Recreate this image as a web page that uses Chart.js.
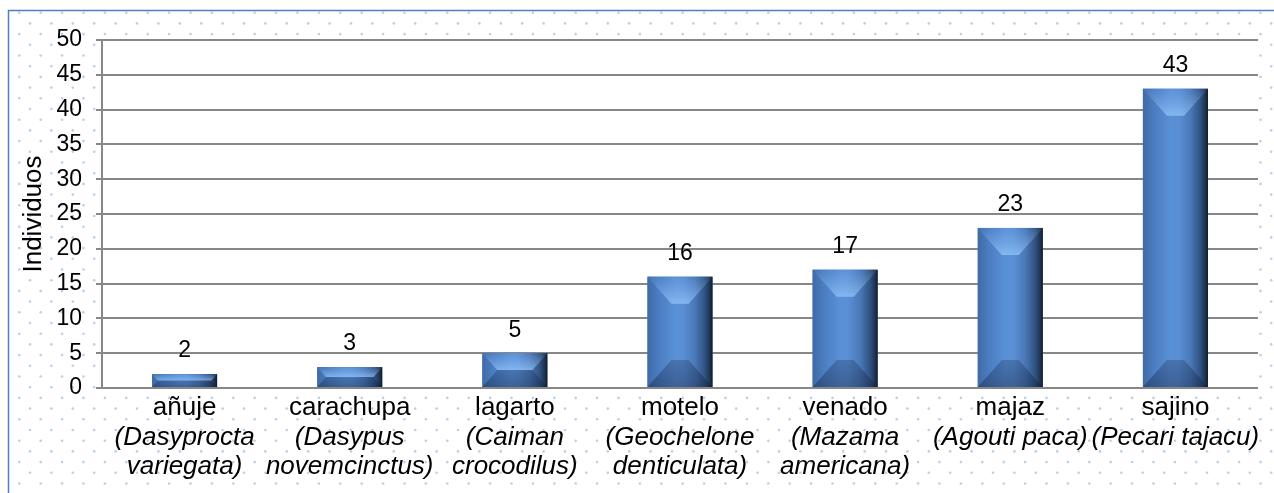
<!DOCTYPE html>
<html><head><meta charset="utf-8">
<script src="https://cdn.jsdelivr.net/npm/chart.js@4.4.1/dist/chart.umd.min.js"></script>
<style>html,body{margin:0;padding:0;background:#fff;overflow:hidden}#wrap{width:1274px;height:493px;position:relative}canvas{display:block}</style>
</head><body><div id="wrap"><canvas id="c" width="1274" height="493"></canvas></div>
<script>
const categories = ['añuje', 'carachupa', 'lagarto', 'motelo', 'venado', 'majaz', 'sajino'];
const scientificNames = [
  ['(Dasyprocta', 'variegata)'],
  ['(Dasypus', 'novemcinctus)'],
  ['(Caiman', 'crocodilus)'],
  ['(Geochelone', 'denticulata)'],
  ['(Mazama', 'americana)'],
  ['(Agouti paca)'],
  ['(Pecari tajacu)']
];
const individuos = [2, 3, 5, 16, 17, 23, 43];
const yTickValues = [0, 5, 10, 15, 20, 25, 30, 35, 40, 45, 50];
const yAxisTitle = 'Individuos';

const FONT = '"Liberation Sans", Arial, sans-serif';

const backgroundPlugin = {
  id: 'bg',
  beforeDraw(chart) {
    const ctx = chart.ctx, W = chart.width, H = chart.height;
    ctx.save();
    ctx.fillStyle = '#fff';
    ctx.fillRect(0, 0, W, H);
    ctx.fillStyle = '#bccfe9';
    const sx = 21.4, sy = 10.7;
    let row = 0;
    for (let y = 12.7; y < H + 5; y += sy, row++) {
      const x0 = row % 2 === 0 ? 19.3 : 30;
      for (let x = x0; x < W + 5; x += sx) {
        ctx.beginPath(); ctx.arc(x, y, 1.3, 0, Math.PI * 2); ctx.fill();
      }
    }
    const a = chart.chartArea;
    ctx.fillStyle = '#fff';
    ctx.fillRect(a.left, a.top, a.right - a.left, a.bottom - a.top);
    ctx.strokeStyle = '#4f81bd';
    ctx.lineWidth = 1.5;
    ctx.strokeRect(8.5, 10.5, W + 20, H + 20);
    ctx.restore();
  }
};

function bevelBar(ctx, L, R, T, B) {
  const w = R - L, h = B - T;
  if (h <= 0) return;
  const dy = Math.min(27, h / 2);
  const dx = Math.min(24, w / 2, dy * 24 / 27);
  const g = ctx.createLinearGradient(L, 0, R, 0);
  g.addColorStop(0, '#3f6aa5');
  g.addColorStop(0.16, '#4a7cc0');
  g.addColorStop(0.42, '#5a90d6');
  g.addColorStop(0.55, '#5a8fd4');
  g.addColorStop(0.73, '#4a78b8');
  g.addColorStop(0.885, '#2f5280');
  g.addColorStop(0.96, '#1e3350');
  g.addColorStop(1, '#111a26');
  ctx.fillStyle = g;
  ctx.fillRect(L, T, w, h);
  // top bevel
  ctx.beginPath(); ctx.moveTo(L, T); ctx.lineTo(R, T); ctx.lineTo(R - dx, T + dy); ctx.lineTo(L + dx, T + dy); ctx.closePath();
  const gt = ctx.createLinearGradient(0, T, 0, T + dy);
  gt.addColorStop(0, 'rgba(130,180,245,0.08)');
  gt.addColorStop(1, 'rgba(155,205,255,0.65)');
  ctx.fillStyle = gt; ctx.fill();
  // bottom bevel
  ctx.beginPath(); ctx.moveTo(L, B); ctx.lineTo(R, B); ctx.lineTo(R - dx, B - dy); ctx.lineTo(L + dx, B - dy); ctx.closePath();
  const gb = ctx.createLinearGradient(0, B - dy, 0, B);
  gb.addColorStop(0, 'rgba(15,30,60,0.25)');
  gb.addColorStop(1, 'rgba(15,30,60,0.4)');
  ctx.fillStyle = gb; ctx.fill();
}

const barStylePlugin = {
  id: 'barStyle',
  afterDatasetsDraw(chart) {
    const ctx = chart.ctx;
    ctx.save();
    chart.getDatasetMeta(0).data.forEach((bar, i) => {
      const p = bar.getProps(['x', 'y', 'base', 'width'], true);
      const L = p.x - p.width / 2, R = p.x + p.width / 2;
      bevelBar(ctx, L, R, Math.min(p.y, p.base), Math.max(p.y, p.base));
      ctx.fillStyle = '#000';
      ctx.font = '23px ' + FONT;
      ctx.textAlign = 'center';
      ctx.textBaseline = 'middle';
      ctx.fillText(String(chart.data.datasets[0].data[i]), p.x, p.y - 23);
    });
    ctx.restore();
  }
};

new Chart(document.getElementById('c'), {
  type: 'bar',
  data: {
    labels: categories,
    datasets: [{
      label: yAxisTitle,
      data: individuos,
      backgroundColor: '#4f81bd',
      borderWidth: 0,
      categoryPercentage: 1,
      barPercentage: 0.394
    }]
  },
  options: {
    responsive: false,
    animation: false,
    devicePixelRatio: 1,
    layout: { padding: { left: 0, top: 40, right: 16, bottom: 0 } },
    plugins: { legend: { display: false }, tooltip: { enabled: false } },
    scales: {
      x: {
        type: 'category',
        position: 'bottom',
        offset: true,
        grid: { display: false, drawTicks: false },
        border: { display: false },
        ticks: {
          color: '#000', autoSkip: false, maxRotation: 0, minRotation: 0, padding: 5,
          font: { family: FONT, size: 26, lineHeight: 1.13 }
        },
        afterFit(s) { s.height = 35; }
      },
      x2: {
        type: 'category',
        position: 'bottom',
        weight: 1,
        offset: true,
        labels: scientificNames,
        grid: { display: false, drawTicks: false },
        border: { display: false },
        ticks: {
          color: '#000', autoSkip: false, maxRotation: 0, minRotation: 0, padding: 0,
          font: { family: FONT, size: 26, style: 'italic', lineHeight: 1.13 }
        },
        afterFit(s) { s.height = 70; }
      },
      y: {
        min: 0, max: 50,
        afterBuildTicks(s) { s.ticks = yTickValues.map(v => ({ value: v })); },
        grid: { color: '#878787', lineWidth: 2, drawTicks: true, tickLength: 6 },
        border: { display: true, color: '#878787', width: 2 },
        ticks: { color: '#000', padding: 14, font: { family: FONT, size: 23 } },
        title: {
          display: true, text: yAxisTitle, color: '#000',
          font: { family: FONT, size: 26 }, padding: { top: 18, bottom: 0 }
        },
        afterFit(s) { s.width = 102; }
      }
    }
  },
  plugins: [backgroundPlugin, barStylePlugin]
});
</script></body></html>
